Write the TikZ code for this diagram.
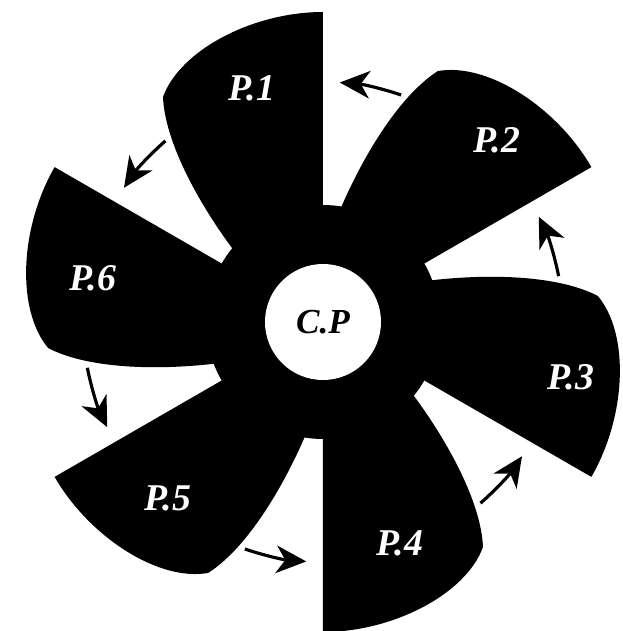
\documentclass[tikz,border=0pt]{standalone}
\usepackage{fontspec}
\setmainfont{Liberation Serif}
\usetikzlibrary{arrows.meta}
\tikzset{
  pics/blade/.style={code={
    \fill[black] (0,117) -- (0,310) .. controls (-70,310) and (-143,272) .. (-160,225)
      .. controls (-158,180) and (-125,120) .. (-91,74) -- (0,0) -- cycle;}},
  hub/.style={circle, fill=black, minimum size=4.68cm, inner sep=0pt},
  core/.style={circle, fill=white, minimum size=2.32cm, inner sep=0pt,
    font=\fontsize{20}{22}\selectfont\bfseries\itshape},
  lbl/.style={text=white, font=\fontsize{21.5}{24}\selectfont\bfseries\itshape,
    text depth=0pt, inner sep=0pt},
  flow/.style={-{Stealth[length=6mm,width=5.5mm,inset=1.8mm]}, line width=1.8pt},
}

\begin{document}
\begin{tikzpicture}[scale=0.02]
  \useasboundingbox (-323,-309) rectangle (300,322);
  % hub and blades
  \node[hub] (hub) at (0,0) {};
  \pic[transform shape] {blade};
  \pic[transform shape, rotate=-60] {blade};
  \pic[transform shape, rotate=-120] {blade};
  \pic[transform shape, rotate=-180] {blade};
  \pic[transform shape, rotate=-240] {blade};
  \pic[transform shape, rotate=-300] {blade};
  \node[core] (cp) at (0,0) {C.P};
  % blade labels
  \node[lbl] (p1) at (-71,234) {P.1};
  \node[lbl] (p2) at (174,182) {P.2};
  \node[lbl] (p3) at (248,-55) {P.3};
  \node[lbl] (p4) at (77,-221) {P.4};
  \node[lbl] (p5) at (-155,-176) {P.5};
  \node[lbl] (p6) at (-230,44) {P.6};
  % rotation arrows
  \coordinate (a1) at (71:240);
  \coordinate (a2) at (131:240);
  \coordinate (a3) at (191:240);
  \coordinate (a4) at (251:240);
  \coordinate (a5) at (311:240);
  \coordinate (a6) at (11:240);
  \draw[flow] (a1) arc[start angle=71, end angle=86, radius=240];
  \draw[flow] (a2) arc[start angle=131, end angle=146, radius=240];
  \draw[flow] (a3) arc[start angle=191, end angle=206, radius=240];
  \draw[flow] (a4) arc[start angle=251, end angle=266, radius=240];
  \draw[flow] (a5) arc[start angle=311, end angle=326, radius=240];
  \draw[flow] (a6) arc[start angle=11, end angle=26, radius=240];
\end{tikzpicture}
\end{document}
